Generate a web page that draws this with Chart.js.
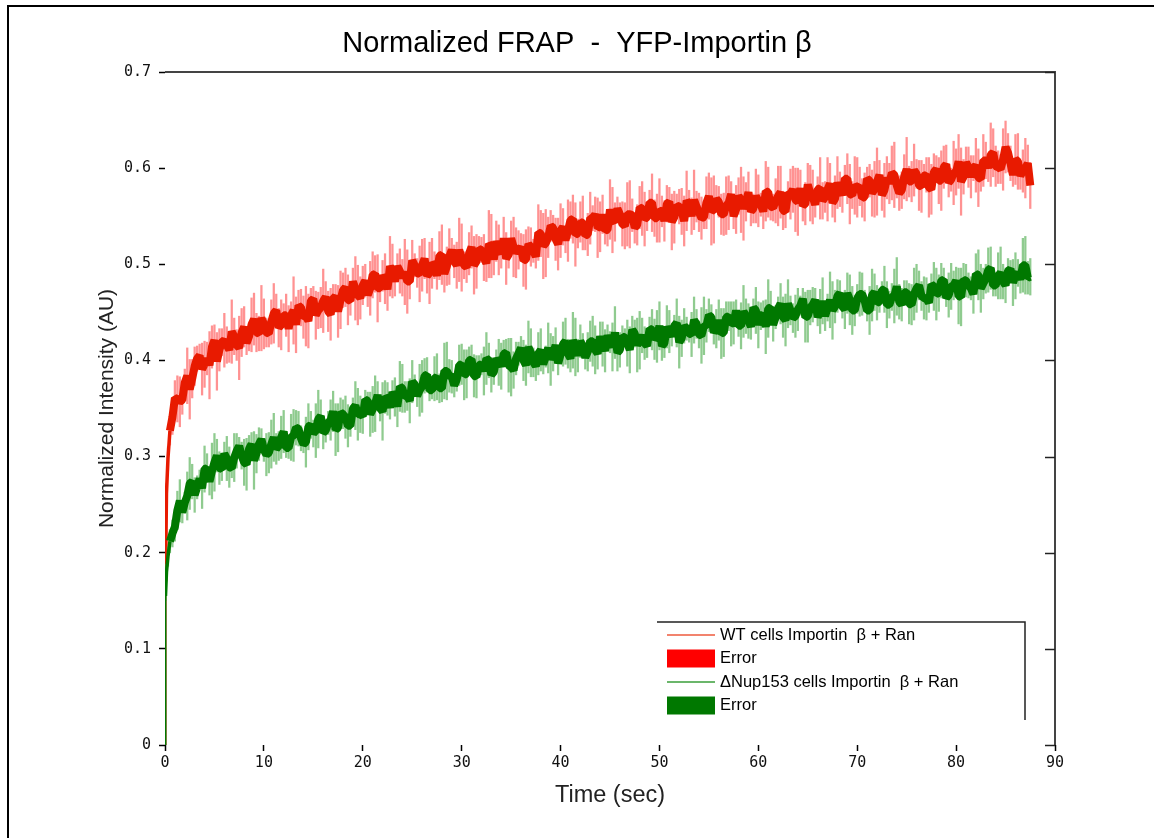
<!DOCTYPE html>
<html>
<head>
<meta charset="utf-8">
<script src="https://cdn.jsdelivr.net/npm/chart.js@4.4.1/dist/chart.umd.min.js"></script>
<style>
  html, body { margin: 0; padding: 0; background: #fff; }
  #wrap { width: 1154px; height: 838px; position: relative; }
</style>
</head>
<body>
<div id="wrap"><canvas id="frap" width="1154" height="838"></canvas></div>
<script>
// time (sec) of each sample
const times = [
  0, 0.05, 0.15, 0.3, 0.5, 0.75,
  1, 1.25, 1.5, 1.75, 2, 2.25, 2.5, 2.75, 3, 3.25, 3.5, 3.75, 4, 4.25, 4.5, 4.75, 5, 5.25, 5.5, 5.75,
  6, 6.25, 6.5, 6.75, 7, 7.25, 7.5, 7.75, 8, 8.25, 8.5, 8.75, 9, 9.25, 9.5, 9.75, 10, 10.25, 10.5, 10.75,
  11, 11.25, 11.5, 11.75, 12, 12.25, 12.5, 12.75, 13, 13.25, 13.5, 13.75, 14, 14.25, 14.5, 14.75, 15, 15.25, 15.5, 15.75,
  16, 16.25, 16.5, 16.75, 17, 17.25, 17.5, 17.75, 18, 18.25, 18.5, 18.75, 19, 19.25, 19.5, 19.75, 20, 20.25, 20.5, 20.75,
  21, 21.25, 21.5, 21.75, 22, 22.25, 22.5, 22.75, 23, 23.25, 23.5, 23.75, 24, 24.25, 24.5, 24.75, 25, 25.25, 25.5, 25.75,
  26, 26.25, 26.5, 26.75, 27, 27.25, 27.5, 27.75, 28, 28.25, 28.5, 28.75, 29, 29.25, 29.5, 29.75, 30, 30.25, 30.5, 30.75,
  31, 31.25, 31.5, 31.75, 32, 32.25, 32.5, 32.75, 33, 33.25, 33.5, 33.75, 34, 34.25, 34.5, 34.75, 35, 35.25, 35.5, 35.75,
  36, 36.25, 36.5, 36.75, 37, 37.25, 37.5, 37.75, 38, 38.25, 38.5, 38.75, 39, 39.25, 39.5, 39.75, 40, 40.25, 40.5, 40.75,
  41, 41.25, 41.5, 41.75, 42, 42.25, 42.5, 42.75, 43, 43.25, 43.5, 43.75, 44, 44.25, 44.5, 44.75, 45, 45.25, 45.5, 45.75,
  46, 46.25, 46.5, 46.75, 47, 47.25, 47.5, 47.75, 48, 48.25, 48.5, 48.75, 49, 49.25, 49.5, 49.75, 50, 50.25, 50.5, 50.75,
  51, 51.25, 51.5, 51.75, 52, 52.25, 52.5, 52.75, 53, 53.25, 53.5, 53.75, 54, 54.25, 54.5, 54.75, 55, 55.25, 55.5, 55.75,
  56, 56.25, 56.5, 56.75, 57, 57.25, 57.5, 57.75, 58, 58.25, 58.5, 58.75, 59, 59.25, 59.5, 59.75, 60, 60.25, 60.5, 60.75,
  61, 61.25, 61.5, 61.75, 62, 62.25, 62.5, 62.75, 63, 63.25, 63.5, 63.75, 64, 64.25, 64.5, 64.75, 65, 65.25, 65.5, 65.75,
  66, 66.25, 66.5, 66.75, 67, 67.25, 67.5, 67.75, 68, 68.25, 68.5, 68.75, 69, 69.25, 69.5, 69.75, 70, 70.25, 70.5, 70.75,
  71, 71.25, 71.5, 71.75, 72, 72.25, 72.5, 72.75, 73, 73.25, 73.5, 73.75, 74, 74.25, 74.5, 74.75, 75, 75.25, 75.5, 75.75,
  76, 76.25, 76.5, 76.75, 77, 77.25, 77.5, 77.75, 78, 78.25, 78.5, 78.75, 79, 79.25, 79.5, 79.75, 80, 80.25, 80.5, 80.75,
  81, 81.25, 81.5, 81.75, 82, 82.25, 82.5, 82.75, 83, 83.25, 83.5, 83.75, 84, 84.25, 84.5, 84.75, 85, 85.25, 85.5, 85.75,
  86, 86.25, 86.5, 86.75, 87, 87.25, 87.5
];

// WT cells Importin b + Ran : mean normalized intensity
const wtMean = [
  0, 0.170, 0.262, 0.298, 0.327, 0.341,
  0.361, 0.360, 0.357, 0.359, 0.377, 0.384, 0.370, 0.381, 0.394, 0.402, 0.405, 0.391, 0.396, 0.402, 0.395, 0.414, 0.421, 0.399, 0.411, 0.419,
  0.421, 0.416, 0.411, 0.430, 0.425, 0.416, 0.413, 0.429, 0.435, 0.418, 0.425, 0.437, 0.443, 0.429, 0.428, 0.444, 0.438, 0.429, 0.428, 0.440,
  0.449, 0.452, 0.434, 0.437, 0.447, 0.447, 0.433, 0.447, 0.452, 0.437, 0.457, 0.455, 0.445, 0.446, 0.441, 0.462, 0.464, 0.447, 0.452, 0.455,
  0.462, 0.466, 0.451, 0.448, 0.464, 0.467, 0.451, 0.463, 0.473, 0.476, 0.463, 0.462, 0.482, 0.475, 0.468, 0.465, 0.478, 0.483, 0.468, 0.475,
  0.489, 0.490, 0.475, 0.475, 0.488, 0.485, 0.474, 0.498, 0.493, 0.482, 0.498, 0.493, 0.486, 0.492, 0.482, 0.482, 0.504, 0.499, 0.491, 0.490,
  0.499, 0.506, 0.488, 0.491, 0.501, 0.499, 0.488, 0.509, 0.510, 0.490, 0.498, 0.508, 0.515, 0.503, 0.499, 0.515, 0.507, 0.499, 0.497, 0.511,
  0.518, 0.499, 0.503, 0.516, 0.515, 0.507, 0.501, 0.521, 0.519, 0.505, 0.524, 0.515, 0.511, 0.527, 0.506, 0.510, 0.527, 0.518, 0.512, 0.515,
  0.518, 0.504, 0.505, 0.521, 0.518, 0.514, 0.508, 0.533, 0.532, 0.519, 0.522, 0.528, 0.540, 0.538, 0.526, 0.521, 0.535, 0.539, 0.525, 0.535,
  0.546, 0.547, 0.531, 0.532, 0.544, 0.543, 0.530, 0.531, 0.548, 0.548, 0.552, 0.538, 0.539, 0.552, 0.535, 0.536, 0.557, 0.546, 0.544, 0.558,
  0.552, 0.542, 0.540, 0.552, 0.552, 0.551, 0.538, 0.541, 0.559, 0.558, 0.547, 0.549, 0.564, 0.564, 0.548, 0.548, 0.556, 0.555, 0.545, 0.563,
  0.565, 0.544, 0.549, 0.561, 0.560, 0.555, 0.545, 0.566, 0.563, 0.550, 0.567, 0.560, 0.554, 0.548, 0.549, 0.564, 0.571, 0.555, 0.557, 0.568,
  0.565, 0.552, 0.552, 0.561, 0.564, 0.573, 0.550, 0.557, 0.571, 0.567, 0.558, 0.565, 0.575, 0.555, 0.558, 0.571, 0.566, 0.562, 0.555, 0.576,
  0.575, 0.560, 0.559, 0.566, 0.571, 0.575, 0.556, 0.555, 0.574, 0.573, 0.578, 0.567, 0.565, 0.579, 0.561, 0.563, 0.583, 0.574, 0.570, 0.562,
  0.578, 0.579, 0.566, 0.570, 0.578, 0.584, 0.564, 0.568, 0.585, 0.578, 0.572, 0.589, 0.589, 0.573, 0.572, 0.582, 0.580, 0.581, 0.569, 0.570,
  0.589, 0.587, 0.574, 0.578, 0.586, 0.593, 0.572, 0.577, 0.590, 0.584, 0.595, 0.593, 0.582, 0.574, 0.577, 0.591, 0.599, 0.586, 0.586, 0.598,
  0.594, 0.582, 0.581, 0.592, 0.593, 0.580, 0.578, 0.596, 0.599, 0.587, 0.587, 0.601, 0.604, 0.585, 0.588, 0.595, 0.596, 0.607, 0.586, 0.591,
  0.606, 0.601, 0.591, 0.600, 0.603, 0.590, 0.589, 0.608, 0.608, 0.600, 0.614, 0.616, 0.602, 0.601, 0.599, 0.609, 0.622, 0.616, 0.605, 0.593,
  0.609, 0.607, 0.592, 0.597, 0.600, 0.605, 0.582
];
// WT error (half-width of the error bar)
const wtErr = [
  0, 0.005, 0.010, 0.012, 0.015, 0.018,
  0.018, 0.024, 0.026, 0.015, 0.014, 0.029, 0.031, 0.020, 0.020, 0.013, 0.012, 0.027, 0.024, 0.017, 0.035, 0.022, 0.016, 0.030, 0.022, 0.014,
  0.028, 0.019, 0.013, 0.033, 0.019, 0.016, 0.033, 0.025, 0.021, 0.012, 0.015, 0.028, 0.027, 0.020, 0.018, 0.034, 0.026, 0.015, 0.014, 0.023,
  0.031, 0.017, 0.020, 0.026, 0.012, 0.022, 0.024, 0.014, 0.035, 0.029, 0.016, 0.019, 0.022, 0.031, 0.028, 0.013, 0.013, 0.025, 0.019, 0.021,
  0.033, 0.016, 0.021, 0.027, 0.015, 0.012, 0.027, 0.030, 0.018, 0.020, 0.026, 0.015, 0.014, 0.033, 0.031, 0.022, 0.020, 0.017, 0.012, 0.028,
  0.024, 0.019, 0.035, 0.014, 0.016, 0.026, 0.022, 0.031, 0.028, 0.015, 0.013, 0.023, 0.019, 0.034, 0.033, 0.018, 0.021, 0.012, 0.015, 0.029,
  0.027, 0.021, 0.018, 0.032, 0.026, 0.014, 0.014, 0.025, 0.031, 0.019, 0.020, 0.029, 0.012, 0.017, 0.024, 0.033, 0.035, 0.014, 0.016, 0.022,
  0.022, 0.030, 0.028, 0.013, 0.013, 0.024, 0.019, 0.035, 0.033, 0.016, 0.021, 0.026, 0.015, 0.022, 0.027, 0.014, 0.018, 0.031, 0.026, 0.020,
  0.014, 0.027, 0.031, 0.018, 0.020, 0.012, 0.012, 0.029, 0.024, 0.034, 0.035, 0.021, 0.016, 0.013, 0.022, 0.027, 0.028, 0.019, 0.013, 0.032,
  0.019, 0.025, 0.033, 0.015, 0.021, 0.028, 0.015, 0.022, 0.027, 0.013, 0.018, 0.031, 0.026, 0.020, 0.014, 0.017, 0.031, 0.034, 0.020, 0.012,
  0.012, 0.023, 0.024, 0.033, 0.035, 0.017, 0.016, 0.021, 0.022, 0.028, 0.028, 0.014, 0.013, 0.030, 0.019, 0.025, 0.033, 0.016, 0.021, 0.019,
  0.015, 0.029, 0.027, 0.012, 0.018, 0.024, 0.026, 0.031, 0.014, 0.019, 0.031, 0.016, 0.020, 0.022, 0.012, 0.027, 0.024, 0.035, 0.035, 0.014,
  0.016, 0.021, 0.022, 0.030, 0.028, 0.013, 0.013, 0.025, 0.019, 0.034, 0.033, 0.020, 0.021, 0.015, 0.015, 0.028, 0.027, 0.012, 0.018, 0.031,
  0.026, 0.014, 0.014, 0.023, 0.031, 0.027, 0.020, 0.017, 0.012, 0.026, 0.024, 0.033, 0.035, 0.019, 0.016, 0.022, 0.022, 0.029, 0.028, 0.013,
  0.013, 0.032, 0.019, 0.016, 0.033, 0.021, 0.015, 0.024, 0.027, 0.018, 0.018, 0.014, 0.026, 0.031, 0.014, 0.030, 0.031, 0.020, 0.020, 0.025,
  0.012, 0.017, 0.024, 0.029, 0.035, 0.015, 0.016, 0.028, 0.022, 0.021, 0.028, 0.034, 0.013, 0.018, 0.019, 0.023, 0.033, 0.016, 0.021, 0.027,
  0.015, 0.026, 0.027, 0.012, 0.018, 0.031, 0.026, 0.019, 0.014, 0.024, 0.031, 0.022, 0.020, 0.015, 0.012, 0.033, 0.024, 0.028, 0.035, 0.018,
  0.016, 0.021, 0.022, 0.013, 0.028, 0.030, 0.013, 0.027, 0.019, 0.014, 0.033, 0.025, 0.021, 0.017, 0.015, 0.032, 0.027, 0.020, 0.018, 0.012,
  0.026, 0.029, 0.014, 0.022, 0.031, 0.019, 0.024
];

// dNup153 cells Importin b + Ran : mean normalized intensity
const nupMean = [
  0, 0.155, 0.180, 0.196, 0.212, 0.220,
  0.227, 0.244, 0.254, 0.242, 0.252, 0.259, 0.272, 0.274, 0.260, 0.268, 0.277, 0.267, 0.287, 0.288, 0.274, 0.285, 0.294, 0.301, 0.288, 0.287,
  0.303, 0.298, 0.289, 0.288, 0.299, 0.306, 0.311, 0.301, 0.294, 0.292, 0.308, 0.313, 0.296, 0.303, 0.313, 0.318, 0.307, 0.302, 0.304, 0.313,
  0.320, 0.308, 0.311, 0.320, 0.326, 0.309, 0.309, 0.320, 0.322, 0.330, 0.329, 0.319, 0.313, 0.315, 0.331, 0.333, 0.324, 0.327, 0.339, 0.342,
  0.325, 0.327, 0.335, 0.338, 0.347, 0.328, 0.330, 0.346, 0.344, 0.341, 0.332, 0.332, 0.350, 0.353, 0.344, 0.344, 0.342, 0.359, 0.358, 0.344,
  0.349, 0.355, 0.364, 0.350, 0.347, 0.362, 0.360, 0.351, 0.367, 0.362, 0.352, 0.373, 0.371, 0.362, 0.363, 0.358, 0.378, 0.375, 0.363, 0.369,
  0.373, 0.384, 0.385, 0.369, 0.369, 0.381, 0.383, 0.371, 0.371, 0.389, 0.389, 0.384, 0.383, 0.374, 0.380, 0.395, 0.396, 0.385, 0.386, 0.400,
  0.401, 0.384, 0.383, 0.395, 0.396, 0.389, 0.402, 0.400, 0.385, 0.388, 0.402, 0.398, 0.394, 0.407, 0.408, 0.395, 0.393, 0.390, 0.402, 0.407,
  0.413, 0.400, 0.395, 0.414, 0.408, 0.398, 0.394, 0.407, 0.411, 0.396, 0.404, 0.413, 0.401, 0.407, 0.416, 0.397, 0.406, 0.417, 0.420, 0.407,
  0.402, 0.421, 0.414, 0.405, 0.420, 0.415, 0.403, 0.409, 0.420, 0.420, 0.411, 0.407, 0.425, 0.417, 0.410, 0.426, 0.419, 0.414, 0.429, 0.408,
  0.411, 0.425, 0.424, 0.418, 0.411, 0.432, 0.428, 0.416, 0.421, 0.426, 0.418, 0.415, 0.433, 0.432, 0.422, 0.425, 0.436, 0.415, 0.418, 0.435,
  0.430, 0.425, 0.436, 0.439, 0.419, 0.423, 0.436, 0.433, 0.428, 0.427, 0.442, 0.438, 0.427, 0.426, 0.436, 0.436, 0.447, 0.445, 0.429, 0.433,
  0.442, 0.428, 0.429, 0.445, 0.446, 0.438, 0.439, 0.452, 0.436, 0.436, 0.451, 0.446, 0.441, 0.435, 0.455, 0.452, 0.437, 0.446, 0.448, 0.435,
  0.454, 0.455, 0.437, 0.445, 0.454, 0.459, 0.445, 0.442, 0.459, 0.452, 0.444, 0.446, 0.453, 0.457, 0.464, 0.445, 0.446, 0.455, 0.458, 0.463,
  0.445, 0.451, 0.462, 0.446, 0.455, 0.463, 0.452, 0.456, 0.467, 0.470, 0.456, 0.453, 0.470, 0.463, 0.452, 0.452, 0.464, 0.469, 0.469, 0.462,
  0.452, 0.452, 0.468, 0.471, 0.460, 0.461, 0.473, 0.474, 0.458, 0.458, 0.466, 0.467, 0.477, 0.461, 0.458, 0.471, 0.471, 0.459, 0.458, 0.469,
  0.475, 0.478, 0.467, 0.465, 0.464, 0.460, 0.479, 0.477, 0.469, 0.470, 0.483, 0.484, 0.465, 0.468, 0.477, 0.478, 0.483, 0.467, 0.466, 0.484,
  0.483, 0.478, 0.475, 0.469, 0.490, 0.489, 0.475, 0.480, 0.485, 0.494, 0.496, 0.478, 0.478, 0.488, 0.491, 0.482, 0.478, 0.493, 0.495, 0.481,
  0.488, 0.491, 0.484, 0.499, 0.499, 0.486, 0.487
];
// dNup153 error (half-width of the error bar)
const nupErr = [
  0, 0.005, 0.008, 0.010, 0.012, 0.014,
  0.015, 0.020, 0.022, 0.011, 0.011, 0.025, 0.027, 0.018, 0.018, 0.012, 0.009, 0.021, 0.024, 0.015, 0.014, 0.029, 0.030, 0.017, 0.017, 0.012,
  0.012, 0.023, 0.021, 0.010, 0.025, 0.018, 0.009, 0.014, 0.024, 0.027, 0.014, 0.012, 0.030, 0.020, 0.017, 0.011, 0.012, 0.022, 0.021, 0.025,
  0.025, 0.016, 0.015, 0.022, 0.022, 0.010, 0.011, 0.024, 0.027, 0.018, 0.018, 0.013, 0.009, 0.026, 0.024, 0.014, 0.014, 0.028, 0.030, 0.017,
  0.017, 0.012, 0.012, 0.021, 0.021, 0.027, 0.025, 0.015, 0.015, 0.022, 0.022, 0.011, 0.011, 0.025, 0.027, 0.019, 0.018, 0.010, 0.009, 0.023,
  0.024, 0.029, 0.014, 0.013, 0.030, 0.017, 0.017, 0.012, 0.012, 0.020, 0.021, 0.026, 0.025, 0.016, 0.015, 0.023, 0.022, 0.010, 0.011, 0.027,
  0.027, 0.018, 0.018, 0.011, 0.009, 0.023, 0.024, 0.015, 0.014, 0.029, 0.030, 0.017, 0.017, 0.012, 0.012, 0.021, 0.021, 0.026, 0.025, 0.014,
  0.015, 0.022, 0.022, 0.010, 0.011, 0.025, 0.027, 0.018, 0.018, 0.013, 0.009, 0.024, 0.024, 0.014, 0.014, 0.028, 0.030, 0.019, 0.017, 0.012,
  0.012, 0.021, 0.021, 0.027, 0.025, 0.015, 0.015, 0.022, 0.022, 0.010, 0.011, 0.026, 0.027, 0.018, 0.018, 0.012, 0.009, 0.023, 0.024, 0.015,
  0.014, 0.029, 0.030, 0.017, 0.017, 0.013, 0.012, 0.020, 0.021, 0.026, 0.025, 0.016, 0.015, 0.023, 0.022, 0.011, 0.011, 0.025, 0.027, 0.019,
  0.018, 0.011, 0.009, 0.024, 0.024, 0.014, 0.014, 0.028, 0.030, 0.018, 0.017, 0.012, 0.012, 0.021, 0.021, 0.027, 0.025, 0.015, 0.015, 0.022,
  0.022, 0.010, 0.011, 0.025, 0.027, 0.019, 0.018, 0.012, 0.009, 0.023, 0.024, 0.015, 0.014, 0.029, 0.030, 0.017, 0.017, 0.013, 0.012, 0.020,
  0.021, 0.026, 0.025, 0.016, 0.015, 0.023, 0.022, 0.011, 0.011, 0.024, 0.027, 0.018, 0.018, 0.013, 0.009, 0.024, 0.024, 0.014, 0.014, 0.028,
  0.030, 0.017, 0.017, 0.012, 0.012, 0.021, 0.021, 0.027, 0.025, 0.015, 0.015, 0.022, 0.022, 0.010, 0.011, 0.026, 0.027, 0.018, 0.018, 0.012,
  0.009, 0.023, 0.024, 0.015, 0.014, 0.029, 0.030, 0.017, 0.017, 0.013, 0.012, 0.020, 0.021, 0.026, 0.025, 0.016, 0.015, 0.023, 0.022, 0.011,
  0.011, 0.025, 0.027, 0.019, 0.018, 0.011, 0.009, 0.024, 0.024, 0.014, 0.014, 0.028, 0.030, 0.018, 0.017, 0.012, 0.012, 0.021, 0.021, 0.027,
  0.025, 0.015, 0.015, 0.022, 0.022, 0.010, 0.011, 0.025, 0.027, 0.019, 0.018, 0.012, 0.009, 0.023, 0.024, 0.015, 0.014, 0.029, 0.030, 0.017,
  0.017, 0.013, 0.012, 0.020, 0.021, 0.026, 0.025, 0.016, 0.015, 0.023, 0.022, 0.011, 0.011, 0.024, 0.027, 0.018, 0.018, 0.013, 0.009, 0.024,
  0.024, 0.014, 0.014, 0.028, 0.030, 0.017, 0.019
];

const seriesLabels = ["WT cells Importin  \u03b2 + Ran", "Error", "\u0394Nup153 cells Importin  \u03b2 + Ran", "Error"];
const chartTitle = "Normalized FRAP  -  YFP-Importin \u03b2";
const xTitle = "Time (sec)";
const yTitle = "Normalized Intensity (AU)";

const FONT = "'Liberation Sans', Arial, Helvetica, sans-serif";
const TICK_FONT = "'DejaVu Sans Mono', 'Liberation Mono', monospace";

function linePoints(mean) {
    return times.map((t, i) => ({ x: t, y: mean[i] }));
}

function errorBars(mean, err) {
    return times.map((t, i) => ({ x: t, y: [mean[i] - err[i], mean[i] + err[i]] }));
}

// the bleach/recovery jump right at t=0 is drawn as a thin line, the rest as a thick noisy band
function segmentWidth(seg) {
    const x0 = seg.p0.parsed.x;
    if (x0 < 0.04) return 2;
    if (x0 < 0.5) return 3.5;
    return 8;
}

// legend swatches (line or filled box) drawn in the lower right of the plot
const legendStyles = [
    { kind: "line", color: "#ee5a3c" },
    { kind: "box", color: "#ff0000" },
    { kind: "line", color: "#3a9e3a" },
    { kind: "box", color: "#007800" },
];

const framePlugin = {
    id: "framePlugin",
    beforeDraw(chart) {
        const ctx = chart.ctx;
        ctx.save();
        ctx.fillStyle = "#fff";
        ctx.fillRect(0, 0, chart.width, chart.height);
        // outer figure frame (top + left)
        ctx.strokeStyle = "#000";
        ctx.lineWidth = 2;
        ctx.beginPath();
        ctx.moveTo(8, chart.height);
        ctx.lineTo(8, 6);
        ctx.lineTo(chart.width, 6);
        ctx.stroke();
        ctx.restore();
    },
    afterDraw(chart) {
        const ctx = chart.ctx;
        const area = chart.chartArea;
        const y = chart.scales.y;
        ctx.save();
        // top and right axis lines
        ctx.strokeStyle = "#444";
        ctx.lineWidth = 2;
        ctx.beginPath();
        ctx.moveTo(area.left, area.top);
        ctx.lineTo(area.right, area.top);
        ctx.lineTo(area.right, area.bottom);
        ctx.stroke();
        // inward ticks on right axis
        ctx.lineWidth = 1.5;
        ctx.strokeStyle = "#222";
        y.ticks.forEach((tk) => {
            const py = Math.round(y.getPixelForValue(tk.value)) + 0.5;
            ctx.beginPath();
            ctx.moveTo(area.right - 10, py);
            ctx.lineTo(area.right, py);
            ctx.stroke();
        });

        // legend box
        const lx = 657, ly = 622, lw = 368, lh = 98;
        ctx.strokeStyle = "#222";
        ctx.lineWidth = 1.5;
        ctx.beginPath();
        ctx.moveTo(lx, ly);
        ctx.lineTo(lx + lw, ly);
        ctx.lineTo(lx + lw, ly + lh);
        ctx.stroke();
        ctx.font = "16.5px " + FONT;
        ctx.textBaseline = "middle";
        ctx.fillStyle = "#000";
        seriesLabels.forEach((label, i) => {
            const rowY = ly + 13 + i * 23.5;
            const st = legendStyles[i];
            if (st.kind === "line") {
                ctx.strokeStyle = st.color;
                ctx.lineWidth = 1.5;
                ctx.beginPath();
                ctx.moveTo(667, rowY);
                ctx.lineTo(715, rowY);
                ctx.stroke();
            } else {
                ctx.fillStyle = st.color;
                ctx.fillRect(667, rowY - 9, 48, 18);
            }
            ctx.fillStyle = "#000";
            ctx.fillText(label, 720, rowY);
        });
        ctx.restore();
    },
};

const ctx = document.getElementById("frap").getContext("2d");

new Chart(ctx, {
    type: "line",
    data: {
        datasets: [
            {
                type: "line",
                label: seriesLabels[0],
                data: linePoints(wtMean),
                borderColor: "#e81a00",
                borderWidth: 8,
                borderJoinStyle: "bevel",
                segment: { borderWidth: segmentWidth },
                pointRadius: 0,
                tension: 0,
                order: 2,
            },
            {
                type: "bar",
                label: seriesLabels[1],
                data: errorBars(wtMean, wtErr),
                backgroundColor: "rgba(255, 100, 100, 0.7)",
                borderWidth: 0,
                barThickness: 1.6,
                grouped: false,
                order: 3,
            },
            {
                type: "line",
                label: seriesLabels[2],
                data: linePoints(nupMean),
                borderColor: "#007800",
                borderWidth: 8,
                borderJoinStyle: "bevel",
                segment: { borderWidth: segmentWidth },
                pointRadius: 0,
                tension: 0,
                order: 0,
            },
            {
                type: "bar",
                label: seriesLabels[3],
                data: errorBars(nupMean, nupErr),
                backgroundColor: "rgba(105, 185, 105, 0.75)",
                borderWidth: 0,
                barThickness: 1.6,
                grouped: false,
                order: 1,
            },
        ],
    },
    options: {
        responsive: false,
        animation: false,
        devicePixelRatio: 1,
        layout: { padding: 0 },
        plugins: {
            legend: { display: false },
            tooltip: { enabled: false },
            title: {
                display: true,
                text: chartTitle,
                color: "#000",
                font: { family: FONT, size: 29, weight: "normal" },
                padding: { top: 27, bottom: 10.2 },
            },
        },
        scales: {
            x: {
                type: "linear",
                min: 0,
                max: 90,
                offset: false,
                border: { display: false },
                grid: { offset: false, drawOnChartArea: false, tickLength: 6, tickColor: "#000", tickWidth: 1.5 },
                ticks: { stepSize: 10, padding: 3, color: "#111", font: { family: TICK_FONT, size: 15 } },
                title: {
                    display: true,
                    text: xTitle,
                    color: "#222",
                    font: { family: FONT, size: 23.5 },
                    padding: { top: 0, bottom: 28.5 },
                },
                afterFit(scale) { scale.height = 93; },
            },
            y: {
                min: 0,
                max: 0.7,
                border: { display: false },
                grid: { drawOnChartArea: false, tickLength: 6, tickColor: "#000", tickWidth: 1.5 },
                ticks: { stepSize: 0.1, padding: 8, color: "#111", font: { family: TICK_FONT, size: 15 } },
                title: {
                    display: true,
                    text: yTitle,
                    color: "#222",
                    font: { family: FONT, size: 21 },
                    padding: { top: 94.4, bottom: 0 },
                },
                afterFit(scale) { scale.width = 165; },
            },
            // empty right-hand strip so the plot ends at the same place as the original
            yRight: {
                position: "right",
                min: 0,
                max: 0.7,
                border: { display: false },
                grid: { display: false },
                ticks: { display: false },
                afterFit(scale) { scale.width = 99; },
            },
        },
    },
    plugins: [framePlugin],
});
</script>
</body>
</html>
